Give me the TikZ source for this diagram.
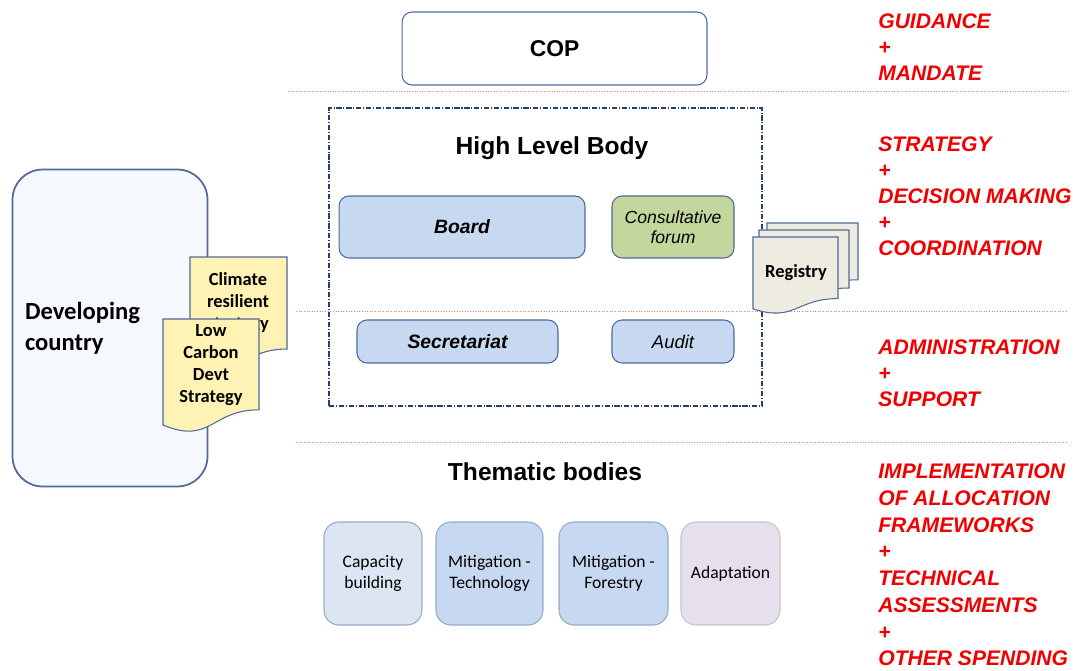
\documentclass[tikz,border=0pt]{standalone}
\usepackage{fontspec}
\setmainfont{Liberation Sans}
\newfontfamily\calibri{Carlito}
\usepackage{tikz}
\usetikzlibrary{positioning}
\definecolor{boxline}{RGB}{79,106,154}
\definecolor{darkline}{RGB}{37,64,112}
\definecolor{softline}{RGB}{150,170,200}
\definecolor{boardblue}{RGB}{198,217,241}
\definecolor{paleblue}{RGB}{220,230,242}
\definecolor{forumgreen}{RGB}{195,214,155}
\definecolor{lavender}{RGB}{230,224,236}
\definecolor{paper}{RGB}{238,236,225}
\definecolor{notes}{RGB}{255,242,180}
\definecolor{countryfill}{RGB}{245,248,252}
\definecolor{sepred}{RGB}{245,120,120}
\definecolor{labelred}{RGB}{240,0,0}

% page with a wavy bottom: x1, y1, x2, y2, fill
\newcommand{\docpage}[5]{%
  \filldraw[fill=#5, draw=boxline, line width=0.6pt]
    (#1,#2) -- (#3,#2) -- (#3,{#2+0.8*(#4-#2)})
    .. controls ({(#1+#3)/2},{#2+0.8*(#4-#2)}) and ({(#1+#3)/2},{#2+1.11*(#4-#2)})
    .. (#1,{#2+0.934*(#4-#2)}) -- cycle;}

\begin{document}
\begin{tikzpicture}[
    x=0.02cm, y=-0.02cm,
    % Node styles
    unit/.style={rectangle, rounded corners=0.2cm, draw=boxline, line width=0.6pt, fill=boardblue, font=\bfseries\itshape\fontsize{11}{13}\selectfont},
    top/.style={rectangle, rounded corners=0.2cm, draw=boxline, line width=0.6pt, fill=white, font=\bfseries\fontsize{13}{15}\selectfont},
    frame/.style={rectangle, draw=darkline, line width=0.8pt, dash pattern=on 3pt off 1pt on 0.6pt off 1pt},
    title/.style={font=\bfseries\fontsize{14}{16}\selectfont},
    theme/.style={rectangle, rounded corners=0.3cm, draw=softline, line width=0.6pt, minimum height=2.06cm, align=center, font=\calibri\fontsize{10}{12}\selectfont},
    note/.style={align=center, inner sep=0pt, font=\calibri\bfseries\fontsize{10.5}{12.5}\selectfont},
    level/.style={anchor=west, align=left, inner sep=0pt, text=labelred, font=\bfseries\itshape\fontsize{12}{14.8}\selectfont},
    % Line styles
    sep/.style={draw=sepred, line width=0.5pt, densely dotted}
]
\useasboundingbox (0,0) rectangle (1078,670);

% Separators
\draw[sep] (288,91) -- (1070,91);
\draw[sep] (296,311) -- (1068,311);
\draw[sep] (296,442) -- (1068,442);

% Top - COP
\node[top, minimum width=6.1cm, minimum height=1.46cm] (cop) at (554.5,48.5) {COP};

% High Level Body
\node[frame, minimum width=8.66cm, minimum height=5.96cm] (hlb) at (545.5,257) {};
\node[title] (hlbtitle) at (552,148) {High Level Body};
\node[unit, minimum width=4.92cm, minimum height=1.24cm] (board) at (462,227) {Board};
\node[unit, fill=forumgreen, minimum width=2.44cm, minimum height=1.24cm, align=center,
      font=\itshape\fontsize{10}{11.3}\selectfont] (forum) at (673,227) {Consultative\\forum};
\node[unit, minimum width=4.02cm, minimum height=0.86cm] (secretariat) at (457.5,341.5) {Secretariat};
\node[unit, minimum width=2.44cm, minimum height=0.86cm,
      font=\itshape\fontsize{10.5}{12}\selectfont] (audit) at (673,341.5) {Audit};

% Registry pages
\docpage{767}{223}{858}{294}{paper}
\docpage{759}{230}{849}{302.5}{paper}
\docpage{753}{237}{838}{314}{paper}
\node[note, font=\calibri\bfseries\fontsize{10.5}{12}\selectfont] (registry) at (796,273) {Registry};

% Developing country
\node[rectangle, rounded corners=0.6cm, draw=boxline, line width=1pt, fill=countryfill,
      minimum width=3.9cm, minimum height=6.34cm, text width=3.4cm, inner xsep=0.25cm,
      align=left, font=\calibri\bfseries\fontsize{14}{17.6}\selectfont] (country) at (110,328) {Developing\\country};

% Strategy notes
\docpage{190}{257}{287}{372}{notes}
\node[note] (climate) at (238,303) {Climate\\resilient\\strategy};
\docpage{163}{319}{259}{432.5}{notes}
\node[note] (lowcarbon) at (211,365) {Low\\Carbon\\Devt\\Strategy};

% Thematic bodies
\node[title] (thematic) at (545,472) {Thematic bodies};
\node[theme, fill=paleblue, minimum width=1.96cm] (capacity) at (373,573.5) {Capacity\\building};
\node[theme, fill=boardblue, minimum width=2.14cm] (mtech) at (489.5,573.5) {Mitigation -\\Technology};
\node[theme, fill=boardblue, minimum width=2.18cm] (mforest) at (613.5,573.5) {Mitigation -\\Forestry};
\node[theme, fill=lavender, draw=lavender!70!gray, minimum width=1.98cm] (adaptation) at (730.5,573.5) {Adaptation};

% Right column
\node[level] (guidance) at (878,47) {GUIDANCE\\+\\MANDATE};
\node[level] (strategy) at (878,196.5) {STRATEGY\\+\\DECISION MAKING\\+\\COORDINATION};
\node[level] (admin) at (878,373) {ADMINISTRATION\\+\\SUPPORT};
\node[level, font=\bfseries\itshape\fontsize{12}{15.2}\selectfont] (spending) at (878,565) {IMPLEMENTATION\\OF ALLOCATION\\FRAMEWORKS\\+\\TECHNICAL\\ASSESSMENTS\\+\\OTHER SPENDING};

\end{tikzpicture}
\end{document}
